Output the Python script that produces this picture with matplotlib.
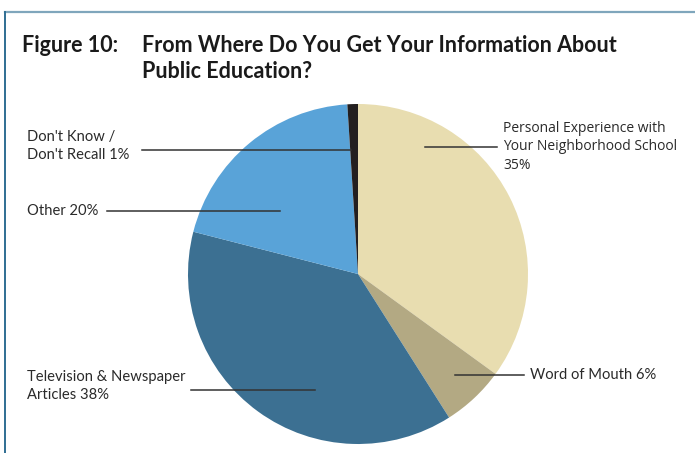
import matplotlib
matplotlib.use("Agg")
import matplotlib.pyplot as plt
from matplotlib.lines import Line2D

# Survey responses
categories = [
    "Personal Experience with\nYour Neighborhood School\n35%",
    "Word of Mouth 6%",
    "Television & Newspaper\nArticles 38%",
    "Other 20%",
    "Don't Know /\nDon't Recall 1%",
]
shares = [35, 6, 38, 20, 1]
colors = ["#E8DDB0", "#B3A983", "#3C7092", "#59A3D8", "#231F20"]

W, H = 695, 453
fig = plt.figure(figsize=(W / 100, H / 100), dpi=100)
fig.patch.set_facecolor("white")

# Pie axes: center (358, 274) px, radius 170 px
cx, cy, r = 358, 274, 170
pie_ax = fig.add_axes([(cx - r) / W, (H - cy - r) / H, 2 * r / W, 2 * r / H])
pie_ax.pie(shares, colors=colors, startangle=90, counterclock=False,
           radius=1.0, wedgeprops=dict(linewidth=0))
pie_ax.set_xlim(-1, 1)
pie_ax.set_ylim(-1, 1)
pie_ax.set_aspect("equal")
pie_ax.axis("off")

# Overlay in pixel coordinates for border, title, labels and leader lines
ov = fig.add_axes([0, 0, 1, 1], facecolor="none")
ov.set_xlim(0, W)
ov.set_ylim(H, 0)
ov.axis("off")

# Frame lines
ov.add_line(Line2D([5, W], [12, 12], color="#7FA6BC", lw=1.6))
ov.add_line(Line2D([5, 5], [12, H], color="#2F6E93", lw=1.4))

title_kw = dict(family=["Lato", "DejaVu Sans"], fontweight="bold",
                fontsize=15.5, color="#1a1a1a", va="center", ha="left")
ov.text(22, 45, "Figure 10:", **title_kw)
ov.text(142, 45, "From Where Do You Get Your Information About", **title_kw)
ov.text(142, 71, "Public Education?", **title_kw)

lab_kw = dict(family=["Lato", "DejaVu Sans"], fontsize=10.6, color="#2a2a2a",
              va="center", ha="left", linespacing=1.45)
lab2_kw = dict(family=["Open Sans", "DejaVu Sans"], fontsize=10.0, color="#2a2a2a",
               va="center", ha="left", linespacing=1.3)

line_kw = dict(color="#333333", lw=1.1)

# Personal Experience
ov.text(503, 147, categories[0], **lab2_kw)
ov.add_line(Line2D([425, 497], [147, 147], **line_kw))

# Word of Mouth
ov.text(530, 375, categories[1], **lab_kw)
ov.add_line(Line2D([455, 524], [375, 375], **line_kw))

# Television & Newspaper
ov.text(27, 386, categories[2], **lab_kw)
ov.add_line(Line2D([191, 315], [390, 390], **line_kw))

# Other
ov.text(27, 211, categories[3], **lab_kw)
ov.add_line(Line2D([107, 280], [211, 211], **line_kw))

# Don't Know
ov.text(27, 146, categories[4], **lab_kw)
ov.add_line(Line2D([142, 351], [150, 150], **line_kw))

fig.savefig("out.png", dpi=100, facecolor="white")
